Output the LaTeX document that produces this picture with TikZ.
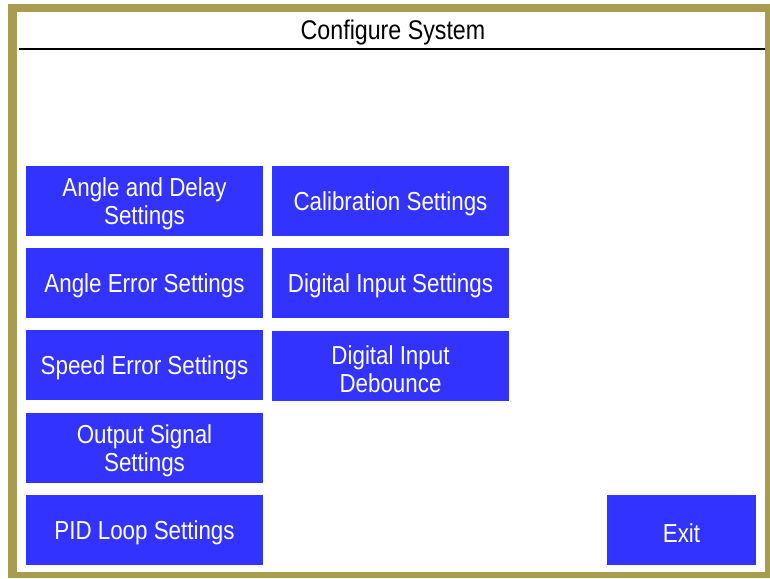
\documentclass[tikz,border=0pt]{standalone}
\usepackage{fontspec}
\setmainfont{Liberation Sans}[FakeStretch=0.86]
\definecolor{framegold}{RGB}{168,156,80}
\definecolor{btnblue}{RGB}{51,51,255}
\tikzset{
  btntext/.style={text=white, align=center, inner sep=0pt, yshift=-3pt,
    font=\fontsize{26}{28}\selectfont},
  button/.style={fill=btnblue, minimum width=237pt, minimum height=70pt,
    inner sep=0pt, label={[btntext]center:#1}},
  exitbutton/.style={button=#1, minimum width=149pt},
  title/.style={font=\fontsize{27}{30}\selectfont}
}
\begin{document}
\begin{tikzpicture}[x=1pt,y=-1pt]
\useasboundingbox (0,0) rectangle (770,578);
% draw the frame
\fill[framegold] (8,4) rectangle (770,578);
\fill[white] (17,12) rectangle (765,572);
% draw the title and the rule below it
\node[title] (titel) at (393,33) {Configure System};
\coordinate (ruleL) at (19,49);
\coordinate (ruleR) at (765,49);
\draw[line width=2pt] (ruleL) -- (ruleR);

% draw the left column of buttons
\node[button={Angle and Delay\\Settings}] (angledelay) at (144.5,201) {};
\node[button={Angle Error Settings}] (angleerror) at (144.5,283) {};
\node[button={Speed Error Settings}] (speederror) at (144.5,365) {};
\node[button={Output Signal\\Settings}] (outsignal) at (144.5,448) {};
\node[button={PID Loop Settings}] (pidloop) at (144.5,530) {};

% draw the middle column of buttons
\node[button={Calibration Settings}] (calib) at (390.5,201) {};
\node[button={Digital Input Settings}] (diginput) at (390.5,283) {};
\node[button={Digital Input\\Debounce}] (debounce) at (390.5,366) {};

% draw the exit button
\node[exitbutton={Exit}] (exit) at (681.5,530) {};
\end{tikzpicture}
\end{document}
